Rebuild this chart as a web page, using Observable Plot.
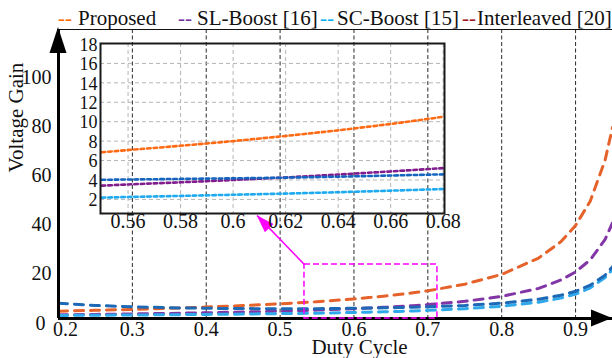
<!DOCTYPE html>
<html><head><meta charset="utf-8">
<script src="https://cdn.jsdelivr.net/npm/d3@7"></script>
<script src="https://cdn.jsdelivr.net/npm/@observablehq/plot@0.6"></script>
<style>
html,body{margin:0;padding:0;background:#fff;}
#wrap{position:relative;width:612px;height:358px;overflow:hidden;font-family:"Liberation Serif",serif;}
#wrap svg{position:absolute;}
#legend{position:absolute;left:0;top:8px;width:612px;height:22px;font-size:21px;line-height:21px;color:#111;}
#legend span{position:absolute;top:0;white-space:nowrap;}
</style></head><body>
<div id="wrap"></div>
<script>
// ---- data ----
const seriesNames = ["Proposed", "SL-Boost [16]", "SC-Boost [15]", "Interleaved [20]"];
const duty =        [0.20,0.25,0.30,0.35,0.40,0.45,0.50,0.55,0.56,0.58,0.60,0.62,0.64,0.66,0.68,0.70,0.75,0.80,0.85,0.88,0.90,0.92,0.94,0.95];
const proposed =    [3.0, 3.33,3.71,4.15,4.67,5.27,6.0, 6.85,7.08,7.52,8.0, 8.53,9.11,9.76,10.5,11.3,14.0,18.0,24.7,31.3,38.0,48.0,64.7,78.0];
const slBoost =     [1.5, 1.67,1.86,2.08,2.33,2.64,3.0, 3.42,3.54,3.76,4.0, 4.26,4.56,4.88,5.22,5.67,7.0, 9.0, 12.3,15.7,19.0,24.0,32.3,39.0];
const scBoost =     [1.25,1.33,1.43,1.54,1.67,1.82,2.0, 2.18,2.25,2.36,2.48,2.60,2.74,2.90,3.07,3.33,4.0, 5.0, 6.67,8.33,10.0,12.5,16.7,20.0];
const interleaved = [6.25,5.33,4.76,4.40,4.17,4.04,4.0, 4.02,4.05,4.11,4.17,4.24,4.34,4.46,4.58,4.76,5.33,6.25,7.84,9.47,11.1,13.6,17.7,21.1];
const xTicks = [0.2,0.3,0.4,0.5,0.6,0.7,0.8,0.9];
const xGrid = [0.3,0.4,0.5,0.6,0.7,0.8,0.9];
const yTicks = [0,20,40,60,80,100];
const insetXTicks = [0.56,0.58,0.6,0.62,0.64,0.66,0.68];
const insetYTicks = [2,4,6,8,10,12,14,16,18];
const zoomX = [0.533, 0.713];
const zoomY = [0, 22];
const pointerTip = [0.469, 42];

// ---- colors ----
const mainColors = ["#e5622a", "#8236a6", "#2fa9ea", "#1d69b6"];
const insetColors = ["#ff6a14", "#801c8c", "#1eaaf0", "#1565c0"];
const legendColors = ["#ff6a00", "#7030a0", "#00b0f0", "#a0151e"];

const allSeries = [proposed, slBoost, scBoost, interleaved];
const rows = [];
allSeries.forEach((vals, i) => vals.forEach((v, j) => rows.push({series: seriesNames[i], D: duty[j], gain: v})));
const insetRows = rows.filter(r => r.D >= 0.549 && r.D <= 0.681);

function head(getTip, getFrom, len, halfW, fill) {
  return (index, scales) => {
    const {x, y} = scales;
    const [tx, ty] = getTip(x, y), [fx, fy] = getFrom(x, y);
    const a = Math.atan2(ty - fy, tx - fx);
    const bx = tx - len * Math.cos(a), by = ty - len * Math.sin(a);
    const px = -Math.sin(a) * halfW, py = Math.cos(a) * halfW;
    return d3.create("svg:path")
      .attr("d", `M${tx},${ty}L${bx + px},${by + py}L${bx - px},${by - py}Z`)
      .attr("fill", fill).node();
  };
}

const main = Plot.plot({
  width: 612, height: 358,
  marginLeft: 58, marginRight: 0, marginTop: 29, marginBottom: 40,
  x: {domain: [0.2, 0.95], axis: null},
  y: {domain: [0, 118], axis: null},
  color: {domain: seriesNames, range: mainColors},
  style: {fontFamily: "Liberation Serif", fontSize: "20px", background: "#fff", color: "#111"},
  marks: [
    Plot.ruleX(xGrid, {stroke: "#2a2a2a", strokeWidth: 1, strokeDasharray: "4,2.5"}),
    Plot.ruleY([118], {stroke: "#111", strokeWidth: 1.2}),
    Plot.line(rows, {x: "D", y: "gain", z: "series", stroke: "series", strokeWidth: 3, strokeDasharray: "9,7"}),
    Plot.ruleY([0], {stroke: "#000", strokeWidth: 3}),
    Plot.ruleX([0.2], {stroke: "#000", strokeWidth: 3}),
    head((x, y) => [x(0.2), y(118) - 2], (x, y) => [x(0.2), y(0)], 26, 8.5, "#000"),
    head((x, y) => [x(0.95), y(0)], (x, y) => [x(0.2), y(0)], 21, 8.5, "#000"),
    Plot.rect([0], {x1: () => zoomX[0], x2: () => zoomX[1], y1: () => zoomY[0], y2: () => zoomY[1],
      fill: "none", stroke: "#ff00ff", strokeWidth: 1.5, strokeDasharray: "6,3"}),
    Plot.link([0], {x1: () => zoomX[0], y1: () => zoomY[1], x2: () => pointerTip[0], y2: () => pointerTip[1],
      stroke: "#ff00ff", strokeWidth: 1.5}),
    head((x, y) => [x(pointerTip[0]), y(pointerTip[1])], (x, y) => [x(zoomX[0]), y(zoomY[1])], 18, 6, "#ff00ff"),
    Plot.text(yTicks.filter(v => v > 0), {y: d => d, text: d => String(d), frameAnchor: "left", textAnchor: "end", dx: -7, dy: 4}),
    Plot.text(yTicks.filter(v => v === 0), {y: d => d, text: d => String(d), frameAnchor: "left", textAnchor: "end", dx: -13, dy: 5}),
    Plot.text(xTicks.slice(1), {x: d => d, text: d => d.toFixed(1), frameAnchor: "bottom", dy: 17}),
    Plot.text(xTicks.slice(0, 1), {x: d => d, text: d => d.toFixed(1), frameAnchor: "bottom", dy: 17, dx: 7}),
    Plot.text(["Duty Cycle"], {frameAnchor: "bottom", lineAnchor: "bottom", dx: 24, dy: 35, fontSize: 21}),
    Plot.text(["Voltage Gain"], {frameAnchor: "left", rotate: -90, lineAnchor: "bottom", dx: -36, dy: -1.5, fontSize: 21})
  ]
});
main.style.left = "0px"; main.style.top = "0px";

const inset = Plot.plot({
  width: 410, height: 215,
  marginLeft: 40, marginRight: 26, marginTop: 10, marginBottom: 35,
  x: {domain: [0.5495, 0.6805], axis: null},
  y: {domain: [0.55, 18.05], axis: null},
  color: {domain: seriesNames, range: insetColors},
  style: {fontFamily: "Liberation Serif", fontSize: "20px", background: "transparent", color: "#111", overflow: "visible"},
  marks: [
    Plot.ruleX(insetXTicks, {stroke: "#b5b5b5", strokeWidth: 1, strokeDasharray: "4,3"}),
    Plot.ruleY(insetYTicks.filter(v => v < 18), {stroke: "#b5b5b5", strokeWidth: 1, strokeDasharray: "4,3"}),
    Plot.line(insetRows, {x: "D", y: "gain", z: "series", stroke: "series", strokeWidth: 2.6, strokeDasharray: "3.5,3", clip: true}),
    Plot.frame({stroke: "#1a1a1a", strokeWidth: 2}),
    Plot.text(insetYTicks, {y: d => d, text: d => String(d), frameAnchor: "left", textAnchor: "end", dx: -3, dy: 1, fontSize: 18}),
    Plot.text(insetXTicks, {x: d => d, text: d => String(d), frameAnchor: "bottom", dy: 14})
  ]
});
inset.style.left = "60px"; inset.style.top = "33px";

const wrap = document.getElementById("wrap");
wrap.appendChild(main);
wrap.appendChild(inset);

// legend (above the plot frame)
const legend = document.createElement("div");
legend.id = "legend";
const dashLeft = [58, 178, 320, 462];
const textLeft = [78, 197, 337, 477];
seriesNames.forEach((name, i) => {
  const d = document.createElement("span");
  d.textContent = "--"; d.style.left = dashLeft[i] + "px"; d.style.color = legendColors[i];
  const t = document.createElement("span");
  t.textContent = name; t.style.left = textLeft[i] + "px";
  legend.appendChild(d); legend.appendChild(t);
});
wrap.appendChild(legend);
</script>
</body></html>
